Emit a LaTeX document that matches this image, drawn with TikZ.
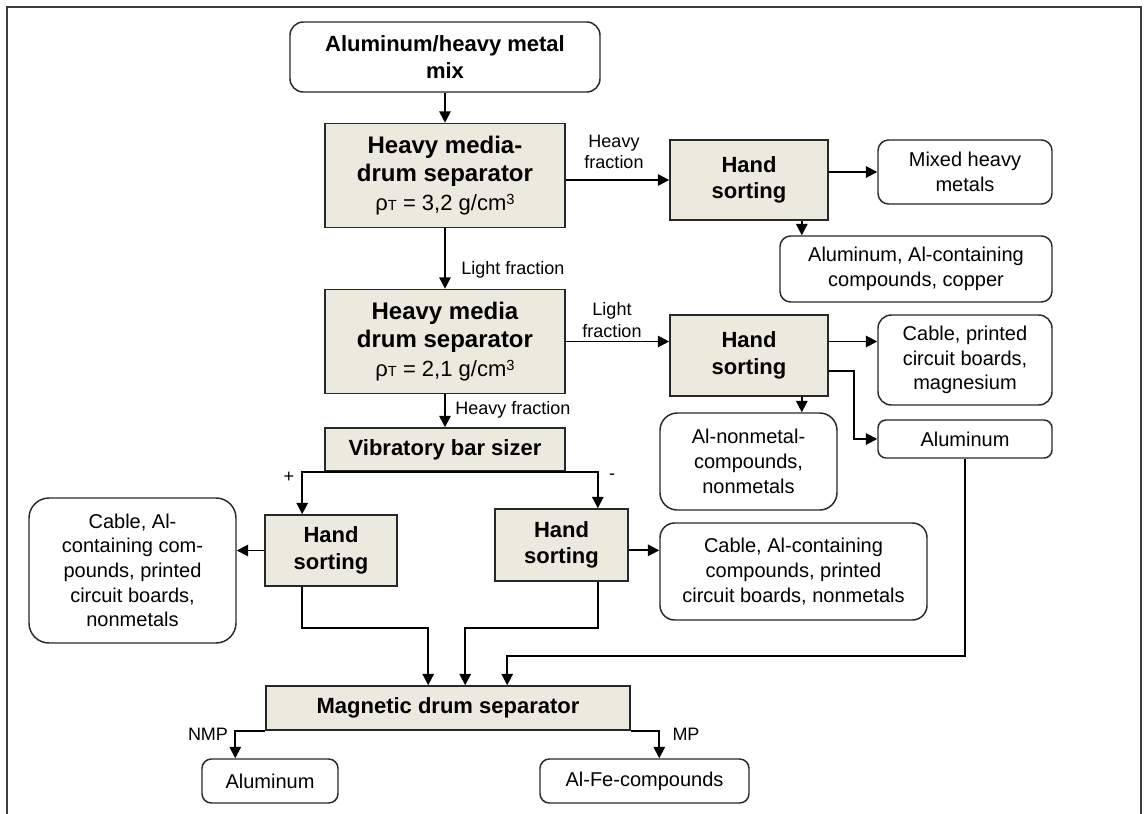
\documentclass[tikz,border=0pt]{standalone}
\usepackage{fontspec}
\setmainfont{Liberation Sans}
\usetikzlibrary{arrows.meta,calc}
\definecolor{procfill}{RGB}{236,233,223}
\definecolor{edgec}{RGB}{40,40,40}
\definecolor{framec}{RGB}{60,60,60}
\begin{document}
\begin{tikzpicture}[x=0.75pt,y=-0.75pt,
  proc/.style={draw=edgec, fill=procfill, line width=1.2pt, align=center, inner sep=0pt,
    font=\bfseries\fontsize{16.5}{20}\selectfont},
  hmsep/.style={proc, minimum width=180pt, minimum height=78pt,
    font=\bfseries\fontsize{18}{21.5}\selectfont},
  prod/.style={draw=edgec, rounded corners=8pt, line width=1.1pt, align=center, inner sep=0pt,
    font=\fontsize{15}{18.5}\selectfont},
  lbl/.style={align=center, inner sep=0pt, font=\fontsize{13.5}{16}\selectfont},
  arr/.style={draw=black, line width=1.4pt, -{Triangle[length=8.5pt,width=8.5pt]}}]

\useasboundingbox (0,0) rectangle (1147,814);

% page frame, open at the bottom
\draw[framec, line width=1.8pt] (7,814) -- (7,7) -- (1141,7) -- (1141,814);

% process steps
\node[prod, rounded corners=10pt, minimum width=232.5pt, minimum height=52.5pt,
  font=\bfseries\fontsize{16.5}{20}\selectfont] (feed) at (445,57) {Aluminum/heavy metal\\mix};
\node[hmsep] (hm1) at (445,175.5) {Heavy media-\\drum separator\\{\mdseries\fontsize{16.5}{21.5}\selectfont ρ{\fontsize{11}{11}\selectfont T} = 3,2 g/cm\raisebox{0.5ex}{\fontsize{11}{11}\selectfont 3}}};
\node[hmsep] (hm2) at (445,341.5) {Heavy media\\drum separator\\{\mdseries\fontsize{16.5}{21.5}\selectfont ρ{\fontsize{11}{11}\selectfont T} = 2,1 g/cm\raisebox{0.5ex}{\fontsize{11}{11}\selectfont 3}}};
\node[proc, minimum width=180pt, minimum height=32.25pt] (vbs) at (445,449.5) {Vibratory bar sizer};
\node[proc, minimum width=118.5pt, minimum height=60pt] (hs1) at (749,180) {Hand\\sorting};
\node[proc, minimum width=118.5pt, minimum height=60.75pt] (hs2) at (749,355.5) {Hand\\sorting};
\node[proc, minimum width=99pt, minimum height=53.25pt] (hs3) at (331,550.5) {Hand\\sorting};
\node[proc, minimum width=99.75pt, minimum height=54pt] (hs4) at (561.5,545) {Hand\\sorting};
\node[proc, minimum width=273pt, minimum height=33pt] (mds) at (448,708) {Magnetic drum separator};

% products
\node[prod, minimum width=130.5pt, minimum height=48pt] (mixed) at (965,172) {Mixed heavy\\metals};
\node[prod, minimum width=204pt, minimum height=49.5pt] (alcu) at (916,269) {Aluminum, Al-containing\\compounds, copper};
\node[prod, rounded corners=10pt, minimum width=130.5pt, minimum height=67.5pt] (cable1) at (965,360) {Cable, printed\\circuit boards,\\magnesium};
\node[prod, rounded corners=6pt, minimum width=130.5pt, minimum height=28.5pt] (alu1) at (965,439) {Aluminum};
\node[prod, rounded corners=13pt, minimum width=132.75pt, minimum height=72.75pt] (alnm) at (748.5,461.5) {Al-nonmetal-\\compounds,\\nonmetals};
\node[prod, rounded corners=15pt, minimum width=155.25pt, minimum height=108.75pt] (outL) at (132.5,570.5) {Cable, Al-\\containing com-\\pounds, printed\\circuit boards,\\nonmetals};
\node[prod, rounded corners=11pt, minimum width=200.25pt, minimum height=72.75pt] (outR) at (793.5,571.5) {Cable, Al-containing\\compounds, printed\\circuit boards, nonmetals};
\node[prod, rounded corners=7pt, minimum width=102pt, minimum height=33pt] (aluB) at (270,781) {Aluminum};
\node[prod, rounded corners=7pt, minimum width=156.75pt, minimum height=33pt] (alfe) at (644.5,781) {Al-Fe-compounds};

% stream labels
\node[lbl] (lf1) at (513,270) {Light fraction};
\node[lbl] (hf1) at (614,152) {Heavy\\fraction};
\node[lbl] (lf2) at (612,320) {Light\\fraction};
\node[lbl] (hf2) at (513,410) {Heavy fraction};
\node[lbl] (plus) at (289,477) {+};
\node[lbl] (minus) at (612,477) {-};
\node[lbl] (nmp) at (208,734) {NMP};
\node[lbl] (mp) at (686,734) {MP};

% branch points
\coordinate (p1) at ([xshift=-20.25pt]hs1.south east);
\coordinate (p2) at ([yshift=-11.6pt]hs2.east);
\coordinate (p3) at ([xshift=-20.25pt]hs2.south east);
\coordinate (p4) at ([yshift=-4pt]hs4.east);
\coordinate (q3) at ([xshift=28.5pt]hs3.north west);
\coordinate (q4) at ([xshift=-23.25pt]hs4.north east);
\coordinate (m1) at ([xshift=122.25pt]mds.north west);
\coordinate (m2) at ([xshift=150pt]mds.north west);
\coordinate (m3) at ([xshift=181.5pt]mds.north west);
\coordinate (n1) at ([xshift=25.5pt]aluB.north west);
\coordinate (n2) at ([xshift=90pt]alfe.north west);

% flows
\draw[arr] (feed) -- (hm1);
\draw[arr] (hm1) -- (hm2);
\draw[arr] (hm2) -- (vbs);
\draw[arr] (hm1.east |- hs1.west) -- (hs1.west);
\draw[arr] (hs1.east |- mixed.west) -- (mixed.west);
\draw[arr] (p1) -- (p1 |- alcu.north);
\draw[arr] (hm2.east) -- (hm2.east -| hs2.west);
\draw[arr] (hm2.east -| hs2.east) -- (hm2.east -| cable1.west);
\draw[arr] (p2) -- ++(18.75pt,0) |- (alu1.west);
\draw[arr] (p3) -- (p3 |- alnm.north);
\draw[arr] (vbs.south) -| (q3);
\draw[arr] (vbs.south) -| (q4);
\draw[arr] (hs3.west) -- (hs3.west -| outL.east);
\draw[arr] (p4) -- (p4 -| outR.west);
\draw[arr] (q3 |- hs3.south) |- ([yshift=42.75pt]m1) -- (m1);
\draw[arr] (q4 |- hs4.south) |- ([yshift=42.75pt]m2) -- (m2);
\draw[arr] (alu1.south) |- ([yshift=21.75pt]m3) -- (m3);
\draw[arr] (mds.south west) -| (n1);
\draw[arr] (mds.south east) -| (n2);
\end{tikzpicture}
\end{document}
